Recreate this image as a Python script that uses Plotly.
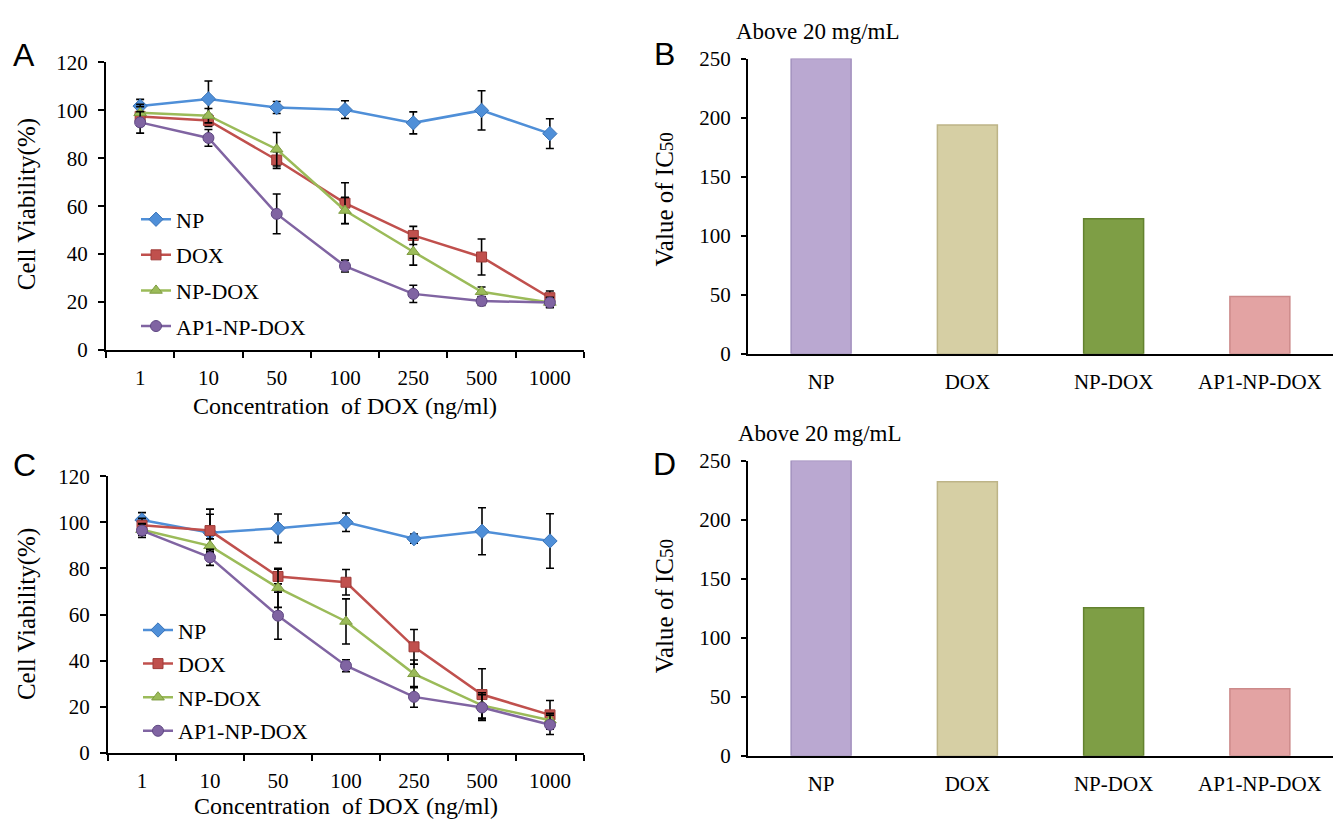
import plotly.graph_objects as go

# ---------------- data ----------------
conc = ['1', '10', '50', '100', '250', '500', '1000']
series_names = ['NP', 'DOX', 'NP-DOX', 'AP1-NP-DOX']

# Panel A
np_a = [101.8, 104.8, 101.2, 100.3, 94.8, 100.0, 90.3]
np_a_err = [2.8, 7.5, 2.5, 3.7, 4.6, 8.2, 6.2]
dox_a = [97.5, 95.8, 79.3, 61.3, 47.8, 38.8, 21.8]
dox_a_err = [4.0, 2.5, 3.5, 8.5, 3.8, 7.5, 2.8]
npdox_a = [99.0, 97.8, 83.8, 58.2, 41.0, 24.3, 19.8]
npdox_a_err = [3.5, 3.0, 7.0, 5.5, 5.6, 2.0, 2.2]
ap1_a = [95.0, 88.5, 56.8, 35.0, 23.4, 20.4, 19.8]
ap1_a_err = [4.5, 3.5, 8.3, 2.5, 3.6, 1.8, 2.0]

# Panel C
np_c = [101.0, 95.5, 97.4, 100.0, 92.9, 96.1, 91.9]
np_c_err = [3.2, 8.0, 6.2, 4.0, 2.0, 10.2, 11.8]
dox_c = [98.7, 96.4, 76.5, 74.0, 46.0, 25.3, 16.5]
dox_c_err = [3.0, 9.3, 3.2, 5.5, 7.5, 11.2, 6.2]
npdox_c = [96.8, 89.8, 71.6, 57.0, 34.3, 20.6, 14.2]
npdox_c_err = [2.5, 3.0, 8.5, 9.8, 6.0, 5.5, 3.0]
ap1_c = [96.4, 84.8, 59.5, 37.8, 24.3, 19.7, 12.2]
ap1_c_err = [3.0, 3.5, 10.2, 2.6, 4.5, 5.5, 4.2]

# Panels B and D (IC50)
groups = ['NP', 'DOX', 'NP-DOX', 'AP1-NP-DOX']
ic50_b = [250, 193.8, 114.3, 48.5]
ic50_d = [250, 232.2, 125.3, 56.7]

# ---------------- styles ----------------
SERIF = 'Liberation Serif'
SANS = 'Liberation Sans'
line_colors = ['#4F8FD8', '#C0504D', '#9BBB59', '#8064A2']
marker_edges = ['#3A74B8', '#9E3B38', '#7E9C40', '#5F4883']
symbols = ['diamond', 'square', 'triangle-up', 'circle']
msizes = [11, 10, 11, 11]
bar_fill = ['#BAA8D1', '#D6CFA4', '#7E9E45', '#E3A3A3']
bar_edge = ['#A391BE', '#BDB487', '#63822F', '#CC8A8A']

fig = go.Figure()

def add_lines(ys, errs, xa, ya, legend):
    for i, (y, e) in enumerate(zip(ys, errs)):
        fig.add_trace(go.Scatter(
            x=conc, y=y, name=series_names[i], mode='lines+markers',
            xaxis=xa, yaxis=ya, legend=legend, legendgroup=legend + str(i),
            line=dict(color=line_colors[i], width=2.5),
            marker=dict(symbol=symbols[i], size=msizes[i], color=line_colors[i],
                        line=dict(color=marker_edges[i], width=1)),
            error_y=dict(type='data', array=e, visible=True, color='black',
                         thickness=1.6, width=4),
        ))

add_lines([np_a, dox_a, npdox_a, ap1_a], [np_a_err, dox_a_err, npdox_a_err, ap1_a_err],
          'x', 'y', 'legend')
add_lines([np_c, dox_c, npdox_c, ap1_c], [np_c_err, dox_c_err, npdox_c_err, ap1_c_err],
          'x3', 'y3', 'legend2')

for vals, xa, ya in [(ic50_b, 'x2', 'y2'), (ic50_d, 'x4', 'y4')]:
    fig.add_trace(go.Bar(
        x=groups, y=vals, xaxis=xa, yaxis=ya, showlegend=False, width=0.41,
        marker=dict(color=bar_fill, line=dict(color=bar_edge, width=1.5)),
    ))

W, H = 1333, 829
def px(x):
    return x / W
def py(y):
    return 1 - y / H

tickfont = dict(family=SERIF, size=21, color='black')

line_x = dict(type='category', categoryorder='array', categoryarray=conc,
              range=[-0.5, 6.5], showline=True, linecolor='black', linewidth=2,
              ticks='outside', tickson='boundaries', ticklen=6, tickwidth=2,
              tickcolor='black', showgrid=False, zeroline=False, tickfont=tickfont,
              ticklabelstandoff=8)
line_y = dict(range=[0, 120], dtick=20, showline=True, linecolor='black', linewidth=2,
              ticks='outside', ticklen=6, tickwidth=2, tickcolor='black',
              showgrid=False, zeroline=False, tickfont=tickfont, ticklabelstandoff=6)
bar_x = dict(type='category', categoryorder='array', categoryarray=groups,
             range=[-0.5, 3.5], showline=True, linecolor='black', linewidth=2,
             ticks='', showgrid=False, zeroline=False, tickfont=tickfont,
             ticklabelstandoff=8)
bar_y = dict(range=[0, 250], dtick=50, showline=True, linecolor='black', linewidth=2,
             ticks='outside', ticklen=5, tickwidth=2, tickcolor='black',
             showgrid=False, zeroline=False, tickfont=tickfont, ticklabelstandoff=6)

fig.update_layout(
    width=W, height=H, margin=dict(l=0, r=0, t=0, b=0),
    paper_bgcolor='white', plot_bgcolor='white',
    font=dict(family=SERIF, color='black'),
    xaxis=dict(line_x, domain=[px(106), px(584)], anchor='y'),
    yaxis=dict(line_y, domain=[py(348), py(52)], anchor='x'),
    xaxis2=dict(bar_x, domain=[px(748), px(1333)], anchor='y2'),
    yaxis2=dict(bar_y, domain=[py(352), py(48)], anchor='x2'),
    xaxis3=dict(line_x, domain=[px(108), px(584)], anchor='y3'),
    yaxis3=dict(line_y, domain=[py(763), py(478)], anchor='x3'),
    xaxis4=dict(bar_x, domain=[px(748), px(1333)], anchor='y4'),
    yaxis4=dict(bar_y, domain=[py(766), py(462)], anchor='x4'),
    legend=dict(x=px(136), y=py(192), xanchor='left', yanchor='top',
                bgcolor='rgba(0,0,0,0)', font=dict(family=SERIF, size=22, color='black'),
                traceorder='grouped', tracegroupgap=4),
    legend2=dict(x=px(138), y=py(615), xanchor='left', yanchor='top',
                 bgcolor='rgba(0,0,0,0)', font=dict(family=SERIF, size=22, color='black'),
                 traceorder='grouped', tracegroupgap=2),
)

annots = [
    # panel letters
    dict(text='A', x=px(24), y=py(44), font=dict(family=SANS, size=32)),
    dict(text='B', x=px(664), y=py(43), font=dict(family=SANS, size=32)),
    dict(text='C', x=px(24), y=py(467), font=dict(family=SANS, size=32)),
    dict(text='D', x=px(664), y=py(465), font=dict(family=SANS, size=32)),
    # notes
    dict(text='Above 20 mg/mL', x=px(734), y=py(20), xanchor='left',
         font=dict(family=SERIF, size=23)),
    dict(text='Above 20 mg/mL', x=px(736), y=py(434), xanchor='left',
         font=dict(family=SERIF, size=23)),
    # axis titles
    dict(text='Cell Viability(%)', x=px(27), y=py(198), textangle=-90,
         font=dict(family=SERIF, size=25)),
    dict(text='Cell Viability(%)', x=px(27), y=py(620), textangle=-90,
         font=dict(family=SERIF, size=25)),
    dict(text='Concentration \u00a0of DOX (ng/ml)', x=px(345), y=py(406),
         font=dict(family=SERIF, size=24)),
    dict(text='Concentration \u00a0of DOX (ng/ml)', x=px(346), y=py(818),
         font=dict(family=SERIF, size=24)),
    dict(text="Value of IC<span style='font-size:19px'>50</span>", x=px(664), y=py(193),
         textangle=-90, font=dict(family=SERIF, size=25)),
    dict(text="Value of IC<span style='font-size:19px'>50</span>", x=px(664), y=py(612),
         textangle=-90, font=dict(family=SERIF, size=25)),
]
for a in annots:
    a.setdefault('xanchor', 'center')
    a.update(xref='paper', yref='paper', showarrow=False, yanchor='middle')
    a['font'].setdefault('color', 'black')
fig.update_layout(annotations=annots)

fig.write_html('out.html',
               config={'displayModeBar': False},
               post_script="document.body.style.margin='0';"
                           "document.body.style.overflow='hidden';")
